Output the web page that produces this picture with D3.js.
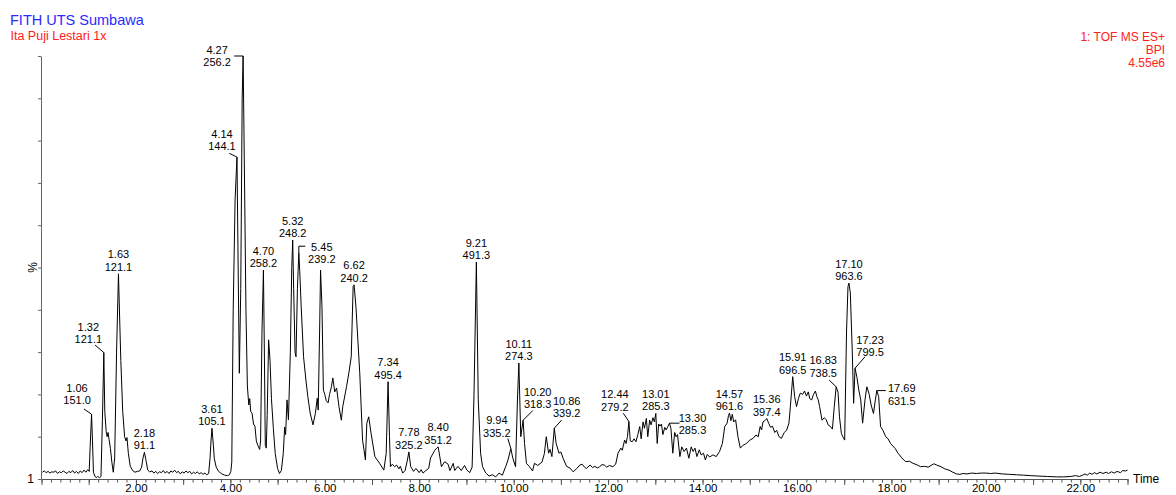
<!DOCTYPE html>
<html>
<head>
<meta charset="utf-8">
<script src="https://cdn.jsdelivr.net/npm/d3@7"></script>
<style>
  html, body { margin: 0; padding: 0; background: #fff; overflow: hidden; }
  svg { display: block; }
  text { font-family: Arial, "Liberation Sans", Helvetica, sans-serif; }
</style>
</head>
<body>
<svg id="chart" width="1176" height="495"></svg>
<script>
// Base peak intensity trace: [retention time (min), relative intensity (%)]
const bpiTrace = [
  [0.02,1.6],[0.06,1.9],[0.10,1.5],[0.14,1.8],[0.18,1.4],[0.22,1.7],[0.26,1.6],[0.30,1.9],[0.34,1.3],[0.38,1.7],
  [0.42,1.5],[0.46,1.9],[0.50,1.6],[0.54,1.3],[0.58,1.8],[0.62,1.5],[0.66,2.0],[0.70,1.4],[0.74,1.8],[0.78,1.3],
  [0.82,1.9],[0.86,1.5],[0.90,2.1],[0.94,1.6],[0.98,2.2],[1.01,1.8],
  [1.03,7.5],[1.06,15.3],[1.08,9.0],[1.10,1.6],[1.13,0.7],[1.16,0.3],[1.19,0.6],[1.23,0.3],[1.26,0.6],[1.29,14.0],
  [1.32,29.9],[1.34,16.0],[1.37,11.2],[1.39,10.0],[1.41,11.0],[1.43,9.4],[1.46,7.2],[1.49,4.0],[1.52,1.6],[1.55,5.0],
  [1.59,30.0],[1.63,48.5],[1.66,36.0],[1.68,28.0],[1.72,16.0],[1.76,10.0],[1.79,9.0],[1.81,9.8],[1.84,6.0],[1.88,3.0],
  [1.93,2.0],[1.98,1.6],[2.03,1.8],[2.08,1.9],[2.12,2.8],[2.15,5.0],[2.18,6.3],[2.21,4.6],[2.25,2.1],[2.29,1.7],
  [2.34,1.9],[2.38,1.4],[2.42,1.8],[2.46,1.3],[2.50,1.7],[2.54,1.5],[2.58,2.0],[2.62,1.4],[2.66,1.8],[2.70,1.3],
  [2.74,1.9],[2.78,1.6],[2.82,2.1],[2.86,1.5],[2.90,1.8],[2.94,1.2],[2.98,1.7],[3.02,1.4],[3.06,1.9],[3.10,1.5],
  [3.14,1.8],[3.18,1.2],[3.22,1.6],[3.26,1.3],[3.30,1.7],[3.34,1.2],[3.38,1.5],[3.42,1.1],[3.46,1.4],[3.50,1.0],
  [3.54,1.3],[3.57,5.0],[3.59,9.0],[3.61,12.0],[3.64,8.0],[3.66,4.8],[3.70,2.8],[3.75,1.8],[3.82,1.2],[3.88,0.9],
  [3.94,0.8],[3.98,1.0],[4.01,1.8],[4.03,4.0],[4.06,40.0],[4.10,66.0],[4.14,76.1],[4.16,55.0],[4.19,25.0],[4.22,45.0],
  [4.25,90.0],[4.27,100],[4.30,70.0],[4.33,40.0],[4.36,22.0],[4.39,17.5],[4.41,19.0],[4.43,16.0],[4.46,15.5],[4.49,13.0],
  [4.52,12.5],[4.55,9.0],[4.58,8.0],[4.62,7.0],[4.64,9.0],[4.67,35.0],[4.70,49.4],[4.72,30.0],[4.74,8.0],[4.76,7.3],
  [4.78,15.0],[4.81,32.9],[4.84,28.0],[4.87,19.0],[4.91,12.0],[4.95,6.0],[5.00,2.5],[5.04,1.3],[5.08,2.0],[5.12,6.0],
  [5.15,12.3],[5.17,10.5],[5.20,18.7],[5.23,14.0],[5.27,30.0],[5.30,50.0],[5.32,56.5],[5.34,45.0],[5.37,30.0],[5.39,28.9],
  [5.42,45.0],[5.45,53.5],[5.47,49.0],[5.50,40.7],[5.55,28.9],[5.60,23.4],[5.64,19.5],[5.69,15.6],[5.75,12.8],[5.80,15.5],
  [5.84,19.1],[5.86,16.3],[5.89,35.0],[5.91,49.4],[5.94,40.7],[5.97,21.0],[6.00,20.0],[6.03,18.5],[6.07,18.0],[6.10,20.0],
  [6.14,21.8],[6.17,23.9],[6.21,20.6],[6.25,21.5],[6.30,17.1],[6.35,13.9],[6.38,17.1],[6.46,21.8],[6.51,25.1],[6.56,28.9],
  [6.60,45.5],[6.62,45.9],[6.66,40.7],[6.74,25.1],[6.80,9.2],[6.86,4.5],[6.89,13.2],[6.93,14.7],[6.98,10.8],[7.06,5.3],
  [7.16,3.7],[7.25,2.1],[7.30,6.0],[7.34,23.0],[7.37,10.0],[7.39,2.9],[7.43,3.5],[7.48,2.9],[7.52,3.3],[7.57,2.4],
  [7.60,3.0],[7.65,1.4],[7.70,2.0],[7.75,4.5],[7.78,6.4],[7.82,2.9],[7.88,1.8],[7.93,2.5],[8.00,1.5],[8.04,2.2],
  [8.08,1.4],[8.14,2.0],[8.20,2.5],[8.24,5.0],[8.29,6.0],[8.33,6.8],[8.37,7.3],[8.40,7.6],[8.44,5.0],[8.47,2.9],
  [8.54,4.1],[8.61,3.5],[8.65,2.0],[8.72,3.7],[8.75,2.0],[8.82,3.0],[8.89,2.0],[8.96,3.2],[9.01,2.1],[9.07,1.5],
  [9.12,2.8],[9.16,20.0],[9.21,51.3],[9.25,18.7],[9.30,6.1],[9.34,2.9],[9.41,1.4],[9.48,0.7],[9.55,1.0],[9.62,0.5],
  [9.69,1.4],[9.76,0.9],[9.83,2.9],[9.88,4.5],[9.94,7.2],[9.98,5.0],[10.04,2.9],[10.08,18.7],[10.11,27.4],[10.15,10.0],
  [10.20,13.9],[10.23,8.4],[10.27,3.7],[10.33,3.0],[10.40,1.9],[10.44,3.7],[10.51,3.2],[10.60,4.0],[10.65,6.0],[10.69,10.0],
  [10.74,6.1],[10.77,7.0],[10.81,5.3],[10.86,12.0],[10.90,8.4],[10.96,6.1],[11.00,6.4],[11.05,4.8],[11.12,3.0],[11.19,2.6],
  [11.26,1.7],[11.33,2.4],[11.40,3.3],[11.45,3.5],[11.50,2.8],[11.54,2.5],[11.62,3.3],[11.67,2.7],[11.72,3.0],[11.77,2.6],
  [11.82,2.9],[11.87,3.4],[11.92,3.3],[11.97,2.8],[12.03,3.2],[12.10,2.9],[12.16,3.5],[12.21,6.1],[12.27,7.3],[12.30,6.8],
  [12.35,9.2],[12.38,8.4],[12.41,10.0],[12.44,13.6],[12.47,9.0],[12.51,8.8],[12.55,9.5],[12.59,8.8],[12.63,10.5],[12.67,12.4],
  [12.70,9.5],[12.74,13.5],[12.77,12.0],[12.81,14.3],[12.84,10.0],[12.88,13.9],[12.91,12.8],[12.95,14.5],[12.98,13.5],[13.01,15.5],
  [13.04,8.4],[13.07,13.0],[13.10,12.5],[13.13,13.0],[13.16,10.5],[13.20,12.2],[13.23,11.6],[13.27,12.5],[13.30,13.2],[13.33,12.0],
  [13.37,6.1],[13.41,11.0],[13.44,10.0],[13.47,10.5],[13.52,5.3],[13.56,7.6],[13.61,6.5],[13.66,7.3],[13.71,4.9],[13.76,7.6],
  [13.80,6.5],[13.84,7.3],[13.88,5.3],[13.93,6.9],[13.97,5.7],[14.02,6.1],[14.06,4.5],[14.10,5.8],[14.15,5.2],[14.22,5.7],
  [14.29,5.3],[14.36,6.5],[14.42,8.4],[14.47,12.4],[14.52,13.2],[14.55,15.0],[14.57,15.6],[14.60,13.8],[14.63,15.3],[14.66,13.5],
  [14.70,14.0],[14.75,10.0],[14.80,7.3],[14.86,8.0],[14.93,8.4],[15.00,9.2],[15.07,9.6],[15.13,10.4],[15.18,10.0],[15.22,12.4],
  [15.25,11.6],[15.28,13.5],[15.32,13.8],[15.36,14.3],[15.40,13.2],[15.44,12.2],[15.48,12.5],[15.53,11.0],[15.57,11.5],[15.62,10.0],
  [15.67,9.6],[15.73,11.0],[15.78,11.5],[15.83,13.2],[15.86,17.1],[15.91,24.2],[15.95,19.5],[15.99,17.1],[16.03,19.0],[16.07,20.3],
  [16.12,20.0],[16.16,20.8],[16.20,19.6],[16.24,20.6],[16.27,19.0],[16.31,18.7],[16.35,20.0],[16.39,20.8],[16.42,19.5],[16.45,18.7],
  [16.48,17.1],[16.53,13.9],[16.58,14.5],[16.62,14.0],[16.66,12.8],[16.71,12.4],[16.75,11.8],[16.79,17.1],[16.83,21.8],[16.87,20.5],
  [16.90,14.7],[16.94,10.8],[16.97,10.0],[17.01,9.2],[17.05,35.0],[17.08,45.5],[17.10,46.3],[17.13,44.0],[17.17,30.5],[17.20,17.9],
  [17.23,26.2],[17.27,24.0],[17.31,21.0],[17.35,18.7],[17.39,13.2],[17.44,18.7],[17.48,21.8],[17.53,20.0],[17.57,17.5],[17.62,15.5],
  [17.66,18.7],[17.69,20.9],[17.73,19.5],[17.77,12.4],[17.82,11.5],[17.88,10.0],[17.93,9.5],[17.98,8.4],[18.03,7.8],[18.08,7.2],
  [18.14,6.1],[18.22,5.0],[18.30,4.1],[18.38,4.2],[18.46,3.7],[18.55,3.3],[18.62,2.9],[18.70,3.0],[18.78,2.8],[18.84,3.2],
  [18.90,3.6],[18.96,3.3],[19.05,2.9],[19.13,2.4],[19.22,2.1],[19.30,1.6],[19.38,1.2],[19.45,1.1],[19.52,1.3],[19.60,1.2],
  [19.70,1.4],[19.80,1.3],[19.90,1.4],[20.00,1.4],[20.10,1.3],[20.20,1.4],[20.35,1.2],[20.50,1.1],[20.65,1.0],[20.80,0.9],
  [20.95,0.8],[21.10,0.7],[21.30,0.6],[21.50,0.5],[21.65,0.5],[21.80,0.6],[21.90,0.8],[21.98,0.6],[22.05,0.9],[22.10,1.2],
  [22.15,0.9],[22.20,1.4],[22.25,1.1],[22.30,1.5],[22.35,1.2],[22.42,1.6],[22.48,1.3],[22.55,1.6],[22.60,1.3],[22.66,1.7],
  [22.72,1.4],[22.78,1.8],[22.85,1.5],[22.90,2.0],[22.96,1.9],[23.00,2.1]
];

// Annotated peaks: retention time and base peak m/z
const peakTimes = [1.06, 1.32, 1.63, 2.18, 3.61, 4.14, 4.27, 4.70, 5.32, 5.45, 6.62, 7.34, 7.78, 8.40, 9.21,
                   9.94, 10.11, 10.20, 10.86, 12.44, 13.01, 13.30, 14.57, 15.36, 15.91, 16.83, 17.10, 17.23, 17.69];
const peakMasses = ["151.0", "121.1", "121.1", "91.1", "105.1", "144.1", "256.2", "258.2", "248.2", "239.2",
                    "240.2", "495.4", "325.2", "351.2", "491.3", "335.2", "274.3", "318.3", "339.2", "279.2",
                    "285.3", "285.3", "961.6", "397.4", "696.5", "738.5", "963.6", "799.5", "631.5"];

// Axis ticks
const timeLabelTicks = [2, 4, 6, 8, 10, 12, 14, 16, 18, 20, 22];
const percentTicks = [0, 10, 20, 30, 40, 50, 60, 70, 80, 90, 100];

// Header text
const titleLines = ["FITH UTS Sumbawa", "Ita Puji Lestari 1x"];
const scanInfo = ["1: TOF MS ES+", "BPI", "4.55e6"];

// ---- layout ----
const svg = d3.select("#chart");
const x = d3.scaleLinear().domain([0, 23]).range([41.5, 1127.5]);
const y = d3.scaleLinear().domain([0, 100]).range([479, 56]);

// Label placement relative to the apex (px): centre dx, second-line baseline dy,
// and leader points drawn towards the apex.
const labelPlacement = {
  "1.06":  { dx: -14.5, dy: -10,  lead: [[-7.5, -5.3]] },
  "1.32":  { dx: -15.5, dy: -9.5, lead: [[-8.8, -7.5]] },
  "4.14":  { dx: -15,   dy: -7,   lead: [[-7.7, -3.8]] },
  "4.27":  { dx: -26,   dy: 10,   lead: [[-9, 0]] },
  "5.45":  { dx: 23,    dy: 10.5, lead: [[6.5, -6.5], [0, -6.5]] },
  "9.94":  { dx: -14,   dy: -12,  lead: [[-3, -10]] },
  "10.20": { dx: 14.6,  dy: -12,  lead: [[9.6, -9.5]] },
  "10.86": { dx: 12.4,  dy: -11,  lead: [[7.4, -8.2]] },
  "12.44": { dx: -14,   dy: -10.5,lead: [[-5.6, -8.2]] },
  "13.30": { dx: 23,    dy: 11,   lead: [[10, 0]] },
  "16.83": { dx: -13,   dy: -10,  lead: [[-7, -6.8]] },
  "17.23": { dx: 15,    dy: -11.7,lead: [[10, -11.5]] },
  "17.69": { dx: 25,    dy: 14,   lead: [[9, 0]] }
};
const lineGap = 12.5;

// Header
svg.append("text").attr("x", 10).attr("y", 25)
  .attr("font-size", 14.5).attr("fill", "#2a2aff").text(titleLines[0]);
svg.append("text").attr("x", 10.5).attr("y", 40)
  .attr("font-size", 12.5).attr("fill", "#ff2020").text(titleLines[1]);
scanInfo.forEach((s, i) => {
  svg.append("text").attr("x", 1165).attr("y", 41 + i * 13)
    .attr("text-anchor", "end").attr("font-size", 12).attr("fill", "#ff2020").text(s);
});

// Y axis
const yAxis = svg.append("g").attr("transform", "translate(41,0)")
  .call(d3.axisLeft(y).tickValues(percentTicks).tickSize(3).tickSizeOuter(0).tickFormat(""));
yAxis.selectAll("path, line").attr("stroke", "#666");

svg.append("text")
  .attr("transform", `translate(33,${y(50)}) rotate(-90)`)
  .attr("text-anchor", "middle").attr("dy", "0.35em")
  .attr("font-size", 12).attr("fill", "#000").text("%");
svg.append("text").attr("x", 34).attr("y", y(0)).attr("dy", "0.35em")
  .attr("text-anchor", "end").attr("font-size", 12).attr("fill", "#000").text("1");

// X axis: minor ticks every 0.2 min, major every minute, labels every 2 min
const minorTicks = d3.range(0, 116).map(i => +(i * 0.2).toFixed(1));
const majorTicks = d3.range(0, 24);
const xMinor = svg.append("g").attr("transform", "translate(0,479)")
  .call(d3.axisBottom(x).tickValues(minorTicks).tickSize(3.5).tickSizeOuter(0).tickFormat(""));
const xMajor = svg.append("g").attr("transform", "translate(0,479)")
  .call(d3.axisBottom(x).tickValues(majorTicks).tickSize(6).tickSizeOuter(0)
    .tickFormat(d => timeLabelTicks.includes(d) ? d3.format(".2f")(d) : ""));
[xMinor, xMajor].forEach(g => g.selectAll("path, line").attr("stroke", "#555"));
xMajor.select(".domain").remove();
xMajor.selectAll("text").attr("y", 12.5).attr("dy", null)
  .attr("font-size", 11.5).attr("fill", "#000")
  .style("font-family", "Arial, 'Liberation Sans', sans-serif");

svg.append("text").attr("x", 1133).attr("y", 483)
  .attr("font-size", 12).attr("fill", "#000").text("Time");

// Chromatogram trace
const line = d3.line().x(d => x(d[0])).y(d => y(d[1]));
svg.append("path").datum(bpiTrace)
  .attr("d", line).attr("fill", "none")
  .attr("stroke", "#000").attr("stroke-width", 1).attr("stroke-linejoin", "round");

// Peak annotations
const labels = svg.append("g").attr("font-size", 11).attr("fill", "#000");
peakTimes.forEach((t, i) => {
  const apex = bpiTrace.find(d => Math.abs(d[0] - t) < 1e-9);
  const px = x(t), py = y(apex[1]);
  const key = t.toFixed(2);
  const p = labelPlacement[key] || { dx: 0, dy: -3 };
  const cx = px + p.dx, b2 = py + p.dy;
  labels.append("text").attr("x", cx).attr("y", b2 - lineGap)
    .attr("text-anchor", "middle").text(key);
  labels.append("text").attr("x", cx).attr("y", b2)
    .attr("text-anchor", "middle").text(peakMasses[i]);
  if (p.lead) {
    const pts = p.lead.map(o => [px + o[0], py + o[1]]).concat([[px, py]]);
    labels.append("path").attr("d", d3.line()(pts))
      .attr("fill", "none").attr("stroke", "#000").attr("stroke-width", 1);
  }
});
</script>
</body>
</html>
